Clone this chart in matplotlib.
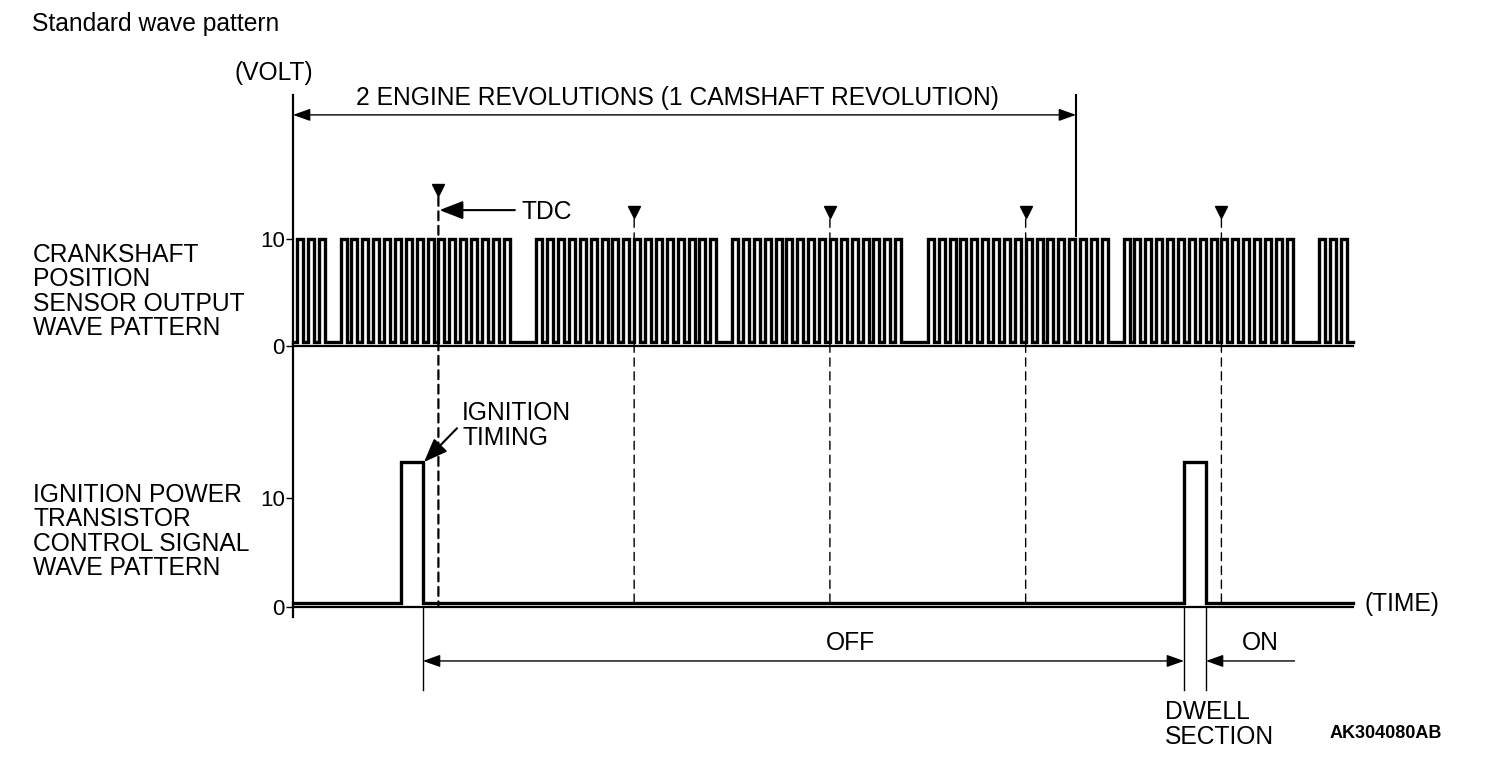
import matplotlib
matplotlib.use("Agg")
import matplotlib.pyplot as plt
from matplotlib.patches import ConnectionPatch

plt.rcParams['font.family'] = ['Liberation Sans', 'DejaVu Sans']

W, H = 1504, 770

# crank signal: tooth index runs that are present (10 deg pitch, 3 missing per rev)
tooth_runs = [(0, 2), (4, 19), (22, 38), (40, 55), (58, 74), (76, 91), (94, 96)]
tooth_pitch = 10.0
first_tooth = 3.7
tooth_high = 5.5
crank_hi, crank_lo = 10.0, 0.4

# ignition power transistor pulses (deg)
ign_pulses = [(99.3, 119.5), (819.3, 839.5)]
ign_hi, ign_lo = 13.3, 0.4

tdc_deg = [133.7, 313.7, 493.7, 673.7, 853.7]
x_end = 974.7
rev2 = 720.0

crank_label = ["CRANKSHAFT", "POSITION", "SENSOR OUTPUT", "WAVE PATTERN"]
ign_label = ["IGNITION POWER", "TRANSISTOR", "CONTROL SIGNAL", "WAVE PATTERN"]

FS = 17.7


def fx(px):
    return px / W


def fy(py):
    return 1 - py / H


def ftext(px, py, s, **kw):
    kw.setdefault('fontsize', FS)
    kw.setdefault('va', 'center')
    fig.text(fx(px), fy(py), s, **kw)


fig = plt.figure(figsize=(W / 100, H / 100), dpi=100)

ax1 = fig.add_axes([fx(293), fy(346), fx(1353) - fx(293), (346 - 95) / H])
ax2 = fig.add_axes([fx(293), fy(617), fx(1353) - fx(293), (617 - 346) / H])
ax1.set_xlim(0, x_end)
ax2.set_xlim(0, x_end)
ax1.set_ylim(0, (346 - 95) / 10.7)
ax2.set_ylim(-10 / 10.9, (607 - 346) / 10.9)

for ax in (ax1, ax2):
    ax.patch.set_visible(False)
    for s in ax.spines.values():
        s.set_visible(False)
    ax.spines['left'].set_visible(True)
    ax.spines['left'].set_linewidth(1.6)
    ax.set_xticks([])
    ax.set_yticks([0, 10])
    ax.set_yticklabels(['0', '10'])
    ax.tick_params(axis='y', length=5, width=1, labelsize=16, pad=1)
ax1.spines['bottom'].set_visible(True)
ax1.spines['bottom'].set_linewidth(1.6)
ax2.plot([0, x_end], [0, 0], color='black', lw=1.6, clip_on=False)

# crank waveform
xs, ys = [0], [crank_lo]
for a, b in tooth_runs:
    for k in range(a, b + 1):
        r = first_tooth + k * tooth_pitch
        f = r + tooth_high
        xs += [r, r, f, f]
        ys += [crank_lo, crank_hi, crank_hi, crank_lo]
xs.append(x_end)
ys.append(crank_lo)
ax1.plot(xs, ys, color='black', lw=2.4, solid_joinstyle='miter', clip_on=False)

# ignition waveform
xs, ys = [0], [ign_lo]
for a, b in ign_pulses:
    xs += [a, a, b, b]
    ys += [ign_lo, ign_hi, ign_hi, ign_lo]
xs.append(x_end)
ys.append(ign_lo)
ax2.plot(xs, ys, color='black', lw=2.4, solid_joinstyle='miter', clip_on=False)

# TDC markers and dashed lines
for i, t in enumerate(tdc_deg):
    ym = 14.58 if i == 0 else 12.52
    ax1.plot([t], [ym], marker='v', ms=8, color='black', clip_on=False)
    ytop = ym - 0.65
    con = ConnectionPatch(xyA=(t, ytop), coordsA=ax1.transData,
                          xyB=(t, 0.15), coordsB=ax2.transData,
                          color='black', lw=1.6 if i == 0 else 1.0,
                          linestyle=(0, (4, 2.5)) if i == 0 else (0, (6, 4)))
    fig.add_artist(con)

ax1.annotate('', xy=(tdc_deg[0] + 1, 12.7), xytext=(204, 12.7),
             arrowprops=dict(arrowstyle='-|>,head_length=0.9,head_width=0.35',
                             mutation_scale=16, lw=1.5, color='black',
                             shrinkA=0, shrinkB=0))
ftext(522, 212, "TDC")

# 2 revolutions dimension
ax1.annotate('', xy=(0, 21.6), xytext=(rev2, 21.6), annotation_clip=False,
             arrowprops=dict(arrowstyle='<|-|>,head_length=0.7,head_width=0.25',
                             mutation_scale=15, lw=1, color='black',
                             shrinkA=0, shrinkB=0))
ax1.plot([rev2, rev2], [ax1.get_ylim()[1], 10.3], color='black', lw=1.5, clip_on=False)
ftext(677, 98, "2 ENGINE REVOLUTIONS (1 CAMSHAFT REVOLUTION)", ha='center')
ftext(274, 73, "(VOLT)", ha='center')

# ignition timing
ax2.annotate('', xy=(ign_pulses[0][1] + 1, ign_hi), xytext=(150.8, 16.4),
             arrowprops=dict(arrowstyle='-|>,head_length=0.9,head_width=0.35',
                             mutation_scale=16, lw=1.5, color='black',
                             shrinkA=0, shrinkB=0))
ftext(462, 413, "IGNITION")
ftext(462, 438, "TIMING")

# OFF / ON / dwell dimensions
y_dim = -4.95
for xe in (ign_pulses[0][1], ign_pulses[1][0], ign_pulses[1][1]):
    ax2.plot([xe, xe], [0, -7.6], color='black', lw=1, clip_on=False)
ax2.annotate('', xy=(ign_pulses[0][1], y_dim), xytext=(ign_pulses[1][0], y_dim),
             annotation_clip=False,
             arrowprops=dict(arrowstyle='<|-|>,head_length=0.7,head_width=0.25',
                             mutation_scale=15, lw=1, color='black',
                             shrinkA=0, shrinkB=0))
ax2.annotate('', xy=(ign_pulses[1][1], y_dim), xytext=(921, y_dim),
             annotation_clip=False,
             arrowprops=dict(arrowstyle='-|>,head_length=0.7,head_width=0.25',
                             mutation_scale=15, lw=1, color='black',
                             shrinkA=0, shrinkB=0))
ftext(850, 643, "OFF", ha='center')
ftext(1260, 643, "ON", ha='center')
ftext(1165, 712, "DWELL")
ftext(1165, 737, "SECTION")
ftext(1365, 604, "(TIME)")
ftext(1330, 733, "AK304080AB", fontsize=13, fontweight='bold')

ftext(32, 24, "Standard wave pattern")
for i, s in enumerate(crank_label):
    ftext(33, 255 + i * 24.4, s)
for i, s in enumerate(ign_label):
    ftext(33, 495 + i * 24.4, s)

fig.savefig("out.png", dpi=100)
